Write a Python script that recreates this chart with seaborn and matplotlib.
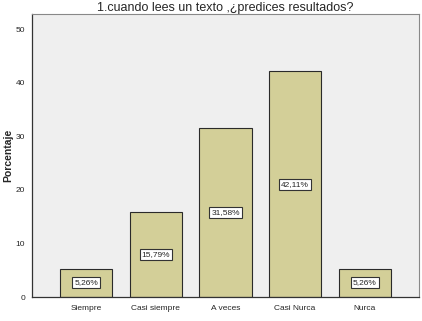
import matplotlib
matplotlib.use("Agg")
import matplotlib.pyplot as plt
import seaborn as sns
import pandas as pd

categories = ["Siempre", "Casi siempre", "A veces", "Casi Nurca", "Nurca"]
values = [5.26, 15.79, 31.58, 42.11, 5.26]
labels = ["5,26%", "15,79%", "31,58%", "42,11%", "5,26%"]
yticks = [0, 10, 20, 30, 40, 50]

df = pd.DataFrame({"cat": categories, "val": values})

sns.set_style("white")
plt.rcParams['font.family'] = ['Liberation Sans', 'DejaVu Sans']

fig = plt.figure(figsize=(4.22, 3.21), dpi=100)
ax = fig.add_axes([32/422, 1-297/321, (419-32)/422, (297-14)/321])
ax.set_facecolor("#efefef")

sns.barplot(data=df, x="cat", y="val", ax=ax, color="#d3cf98", width=0.75,
            edgecolor="#2a2a2a", linewidth=0.8, saturation=1)

for i, (v, lab) in enumerate(zip(values, labels)):
    ax.text(i, v / 2, lab, ha="center", va="center", fontsize=6,
            bbox=dict(boxstyle="square,pad=0.25", fc="white", ec="#333333", lw=0.8))

ax.set_xlim(-0.78, 4.78)
ax.set_ylim(0, 52.8)
ax.set_yticks(yticks)
ax.set_yticklabels([str(t) for t in yticks])
ax.tick_params(axis="both", labelsize=6, length=3, width=0.8, color="#333333", direction="out", pad=2)
ax.tick_params(axis="x", pad=3)
ax.set_xlabel("")
ax.set_ylabel("Porcentaje", fontsize=7.5, fontweight="bold")
ax.yaxis.set_label_coords(-0.048, 0.5)
ax.set_title("1.cuando lees un texto ,¿predices resultados?", fontsize=9, pad=2)

for s in ["top", "right"]:
    ax.spines[s].set_color("#888888")
    ax.spines[s].set_linewidth(0.8)
for s in ["left", "bottom"]:
    ax.spines[s].set_color("#333333")
    ax.spines[s].set_linewidth(0.9)

fig.savefig("out.png", dpi=100)
